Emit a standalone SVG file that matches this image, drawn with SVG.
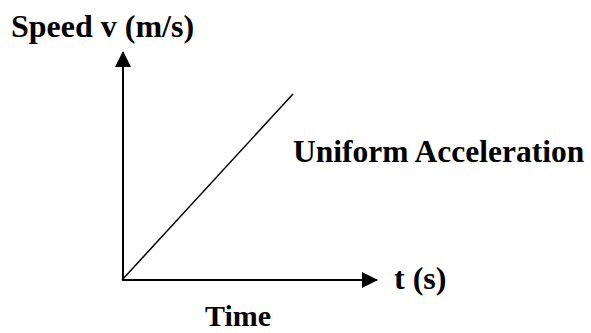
<svg xmlns="http://www.w3.org/2000/svg" width="591" height="333" viewBox="0 0 591 333">
<defs>
<style>
.lbl{font-family:"Liberation Serif","Times New Roman",serif;font-weight:bold;font-size:32px;fill:#000}
.ax{stroke:#000;stroke-width:2;fill:none}
</style>
<marker id="ah" markerWidth="16" markerHeight="16" viewBox="0 0 16 16" refX="15" refY="8" orient="auto" markerUnits="userSpaceOnUse">
<path d="M0,0 L16,8 L0,16 Z" fill="#000"/>
</marker>
</defs>
<g id="connectors">
<line class="ax" x1="123" y1="281" x2="123" y2="52" marker-end="url(#ah)"/>
<line class="ax" x1="122" y1="280" x2="377" y2="280" marker-end="url(#ah)"/>
<line x1="122" y1="280" x2="293" y2="94" stroke="#000" stroke-width="1.5"/>
</g>
<g id="speed-label"><text class="lbl" x="11" y="37">Speed v (m/s)</text></g>
<g id="uniform-label"><text class="lbl" x="293" y="162" style="font-size:31.5px">Uniform Acceleration</text></g>
<g id="t-label"><text class="lbl" x="394" y="289">t (s)</text></g>
<g id="time-label"><text class="lbl" x="205" y="326" style="font-size:30px">Time</text></g>
</svg>
